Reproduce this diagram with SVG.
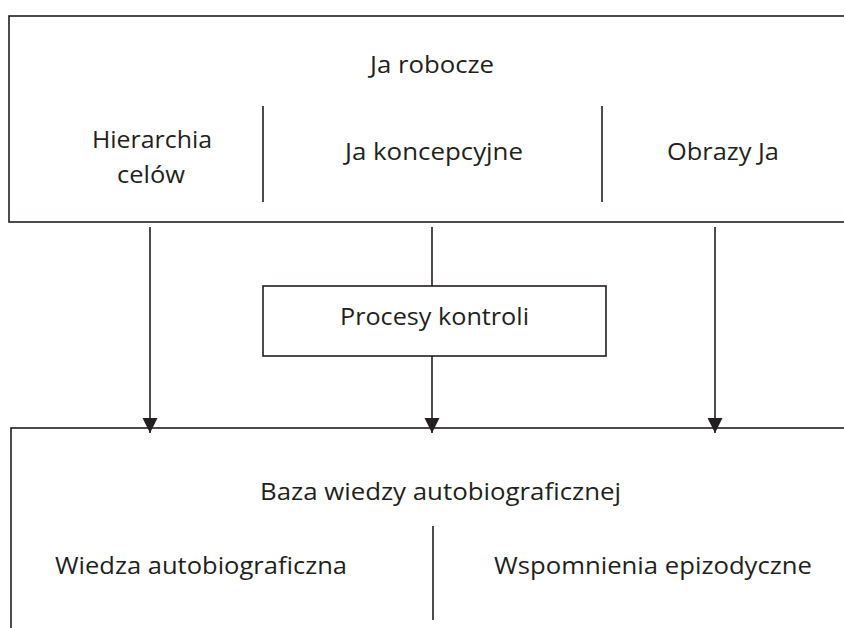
<svg xmlns="http://www.w3.org/2000/svg" width="844" height="628" viewBox="0 0 844 628">
<defs>
<style>
.box{fill:#ffffff;stroke:#231f20;stroke-width:1.6}
.div{stroke:#231f20;stroke-width:1.6;fill:none}
.con{stroke:#231f20;stroke-width:1.6;fill:none}
.t{font-family:"Open Sans","Noto Sans","Liberation Sans",sans-serif;font-size:23.5px;fill:#231f20;text-anchor:middle}
</style>
<marker id="arr" markerUnits="userSpaceOnUse" viewBox="0 0 16 16" markerWidth="16" markerHeight="16" refX="15" refY="8" orient="auto">
<path d="M0,0.5 L15,8 L0,15.5 Z" fill="#231f20"/>
</marker>
</defs>
<rect width="844" height="628" fill="#ffffff"/>
<g id="ja-robocze">
<rect class="box" x="9" y="16" width="850" height="206"/>
<text class="t" x="432" y="73" textLength="124" lengthAdjust="spacingAndGlyphs">Ja robocze</text>
<line class="div" x1="263" y1="106" x2="263" y2="202"/>
<line class="div" x1="602" y1="106" x2="602" y2="202"/>
<text class="t" x="152" y="148" textLength="120" lengthAdjust="spacingAndGlyphs">Hierarchia</text>
<text class="t" x="151" y="183" textLength="68" lengthAdjust="spacingAndGlyphs">celów</text>
<text class="t" x="434" y="160" textLength="178" lengthAdjust="spacingAndGlyphs">Ja koncepcyjne</text>
<text class="t" x="723" y="160" textLength="112" lengthAdjust="spacingAndGlyphs">Obrazy Ja</text>
</g>
<g id="procesy-kontroli">
<rect class="box" x="263" y="286" width="343" height="70"/>
<text class="t" x="434.5" y="325" textLength="189" lengthAdjust="spacingAndGlyphs">Procesy kontroli</text>
</g>
<g id="baza-wiedzy">
<rect class="box" x="11" y="428" width="850" height="220"/>
<text class="t" x="440.5" y="500" textLength="361" lengthAdjust="spacingAndGlyphs">Baza wiedzy autobiograficznej</text>
<line class="div" x1="433" y1="526" x2="433" y2="620"/>
<text class="t" x="201" y="574" textLength="292" lengthAdjust="spacingAndGlyphs">Wiedza autobiograficzna</text>
<text class="t" x="653" y="574" textLength="318" lengthAdjust="spacingAndGlyphs">Wspomnienia epizodyczne</text>
</g>
<g id="connectors">
<line class="con" x1="150" y1="227" x2="150" y2="433" marker-end="url(#arr)"/>
<line class="con" x1="432" y1="227" x2="432" y2="286"/>
<line class="con" x1="432" y1="356" x2="432" y2="433" marker-end="url(#arr)"/>
<line class="con" x1="715" y1="227" x2="715" y2="433" marker-end="url(#arr)"/>
</g>
</svg>
